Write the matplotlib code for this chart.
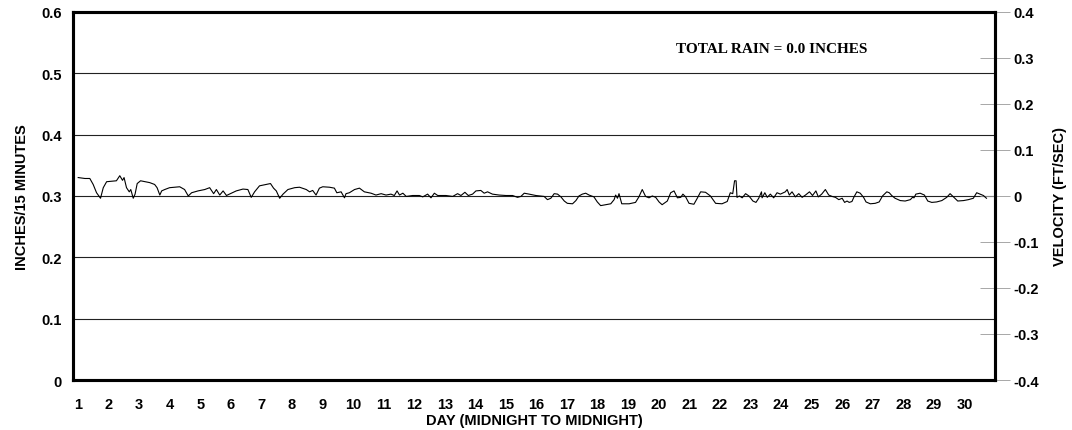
import matplotlib
matplotlib.use("Agg")
import matplotlib.pyplot as plt

# ---- data ----
days = [1.01, 1.23, 1.39, 1.50, 1.61, 1.74, 1.83, 1.94, 2.26, 2.37, 2.46, 2.51, 2.59, 2.68, 2.73, 2.81,
        2.87, 2.94, 3.05, 3.35, 3.51, 3.59, 3.68, 3.74, 3.84, 4.00, 4.33, 4.49, 4.61, 4.72, 4.93, 5.15,
        5.31, 5.44, 5.53, 5.64, 5.75, 5.86, 5.99, 6.18, 6.40, 6.56, 6.67, 6.78, 6.94, 7.16, 7.30, 7.40,
        7.49, 7.60, 7.71, 7.87, 8.09, 8.25, 8.47, 8.58, 8.68, 8.79, 8.90, 9.01, 9.23, 9.39, 9.47, 9.61,
        9.72, 9.77, 9.88, 10.05, 10.21, 10.37, 10.59, 10.75, 10.92, 11.08, 11.24, 11.35, 11.44, 11.52,
        11.63, 11.74, 11.95, 12.17, 12.28, 12.44, 12.55, 12.66, 12.77, 13.04, 13.26, 13.42, 13.53, 13.66,
        13.77, 13.91, 14.02, 14.18, 14.29, 14.40, 14.56, 14.78, 15.00, 15.22, 15.38, 15.49, 15.60, 15.76,
        15.98, 16.25, 16.36, 16.47, 16.58, 16.69, 16.80, 16.91, 17.01, 17.18, 17.29, 17.39, 17.50, 17.61,
        17.72, 17.88, 17.99, 18.10, 18.27, 18.43, 18.54, 18.59, 18.65, 18.70, 18.79, 19.03, 19.24, 19.35,
        19.46, 19.57, 19.68, 19.79, 19.90, 20.01, 20.11, 20.28, 20.39, 20.50, 20.61, 20.72, 20.79, 20.88,
        20.99, 21.15, 21.26, 21.37, 21.53, 21.69, 21.86, 22.07, 22.24, 22.34, 22.42, 22.48, 22.53, 22.56,
        22.64, 22.73, 22.84, 22.95, 23.08, 23.18, 23.27, 23.36, 23.38, 23.47, 23.55, 23.65, 23.76, 23.87,
        23.98, 24.14, 24.20, 24.27, 24.36, 24.47, 24.58, 24.69, 24.80, 24.93, 25.03, 25.14, 25.22, 25.33,
        25.45, 25.56, 25.67, 25.78, 25.89, 26.00, 26.08, 26.16, 26.23, 26.32, 26.38, 26.48, 26.59, 26.70,
        26.78, 26.92, 27.08, 27.21, 27.32, 27.46, 27.54, 27.62, 27.73, 27.90, 28.06, 28.23, 28.30, 28.35,
        28.41, 28.55, 28.69, 28.80, 28.93, 29.09, 29.26, 29.42, 29.53, 29.64, 29.78, 29.97, 30.13, 30.29,
        30.40, 30.51, 30.62, 30.72]
velocity = [0.040, 0.038, 0.038, 0.025, 0.007, -0.005, 0.018, 0.031, 0.033, 0.044, 0.034, 0.040, 0.018,
            0.009, 0.014, -0.005, 0.004, 0.027, 0.033, 0.029, 0.025, 0.018, 0.002, 0.011, 0.014, 0.018,
            0.020, 0.014, 0.000, 0.007, 0.011, 0.014, 0.018, 0.005, 0.014, 0.002, 0.011, 0.001, 0.005,
            0.011, 0.015, 0.014, -0.003, 0.009, 0.022, 0.025, 0.027, 0.017, 0.011, -0.005, 0.004, 0.014,
            0.018, 0.019, 0.014, 0.009, 0.012, 0.002, 0.017, 0.020, 0.019, 0.017, 0.007, 0.009, -0.004,
            0.005, 0.007, 0.014, 0.017, 0.009, 0.006, 0.002, 0.005, 0.002, 0.004, 0.001, 0.011, 0.002,
            0.006, -0.001, 0.001, 0.001, -0.002, 0.004, -0.004, 0.006, 0.001, 0.001, -0.001, 0.005, 0.001,
            0.008, 0.001, 0.004, 0.011, 0.012, 0.006, 0.009, 0.004, 0.002, 0.001, 0.001, -0.003, -0.001,
            0.006, 0.004, 0.001, -0.001, -0.008, -0.005, 0.005, 0.004, -0.002, -0.011, -0.016, -0.017,
            -0.010, 0.000, 0.004, 0.006, 0.002, -0.002, -0.013, -0.021, -0.019, -0.017, -0.008, 0.002,
            -0.005, 0.005, -0.017, -0.017, -0.014, -0.002, 0.014, -0.001, -0.004, 0.000, -0.003, -0.013,
            -0.019, -0.011, 0.007, 0.011, -0.004, -0.003, 0.004, -0.002, -0.016, -0.018, -0.005, 0.009,
            0.008, 0.000, -0.016, -0.017, -0.012, 0.007, 0.005, 0.033, 0.033, -0.003, 0.000, -0.004, 0.005,
            0.000, -0.011, -0.014, -0.005, 0.009, -0.004, 0.007, -0.003, 0.004, -0.004, 0.007, 0.004, 0.009,
            0.014, 0.002, 0.009, -0.002, 0.005, -0.003, 0.002, 0.009, 0.001, 0.011, -0.002, 0.004, 0.014,
            0.002, -0.001, -0.003, -0.008, -0.005, -0.014, -0.011, -0.014, -0.012, -0.003, 0.009, 0.006,
            -0.003, -0.013, -0.017, -0.016, -0.013, 0.000, 0.009, 0.007, 0.001, -0.005, -0.010, -0.011,
            -0.008, -0.003, -0.004, 0.004, 0.006, 0.002, -0.011, -0.014, -0.013, -0.010, -0.003, 0.005,
            -0.002, -0.011, -0.010, -0.008, -0.005, 0.007, 0.004, 0.001, -0.005]

day_ticks = list(range(1, 31))
left_ticks = [0, 0.1, 0.2, 0.3, 0.4, 0.5, 0.6]
left_labels = ["0", "0.1", "0.2", "0.3", "0.4", "0.5", "0.6"]
right_ticks = [-0.4, -0.3, -0.2, -0.1, 0, 0.1, 0.2, 0.3, 0.4]
right_labels = ["-0.4", "-0.3", "-0.2", "-0.1", "0", "0.1", "0.2", "0.3", "0.4"]
rain_text = "TOTAL RAIN = 0.0 INCHES"

# ---- figure ----
plt.rcParams['font.family'] = ['Liberation Sans', 'DejaVu Sans']
FS = 10.5
fig = plt.figure(figsize=(10.72, 4.31), dpi=100)
ax = fig.add_axes([0.0681, 0.116, 0.8601, 0.854])

ax.set_xlim(0.84, 31.0)
ax.set_ylim(0, 0.6)
ax.set_yticks(left_ticks)
ax.set_yticklabels(left_labels, fontsize=FS, fontweight='bold')
ax.set_xticks(day_ticks)
ax.set_xticklabels([str(d) for d in day_ticks], fontsize=FS, fontweight='bold')
ax.tick_params(axis='both', length=0)
ax.tick_params(axis='y', pad=8)
ax.tick_params(axis='x', pad=12)
for yv in left_ticks[1:-1]:
    ax.axhline(yv, color='#222222', linewidth=0.8, zorder=1)
for s in ax.spines.values():
    s.set_linewidth(2.2)
ax.set_ylabel("INCHES/15 MINUTES", fontsize=FS, fontweight='bold', labelpad=9)
ax.set_xlabel("DAY (MIDNIGHT TO MIDNIGHT)", fontsize=FS, fontweight='bold', labelpad=2)

ax.text(0.758, 0.90, rain_text, transform=ax.transAxes, ha='center', va='center',
        fontsize=11, fontweight='bold', family=['Liberation Serif', 'DejaVu Serif'])

ax2 = ax.twinx()
ax2.set_ylim(-0.4, 0.4)
ax2.set_yticks(right_ticks)
ax2.set_yticklabels(right_labels, fontsize=FS, fontweight='bold')
ax2.tick_params(axis='y', direction='inout', length=22, width=0.6, color='#999999', pad=2)
for s in ax2.spines.values():
    s.set_linewidth(2.2)
ax2.set_ylabel("VELOCITY (FT/SEC)", fontsize=FS, fontweight='bold', labelpad=10)
ax2.plot(days, velocity, color='black', linewidth=0.8, zorder=3)

fig.savefig("out.png", dpi=100)
